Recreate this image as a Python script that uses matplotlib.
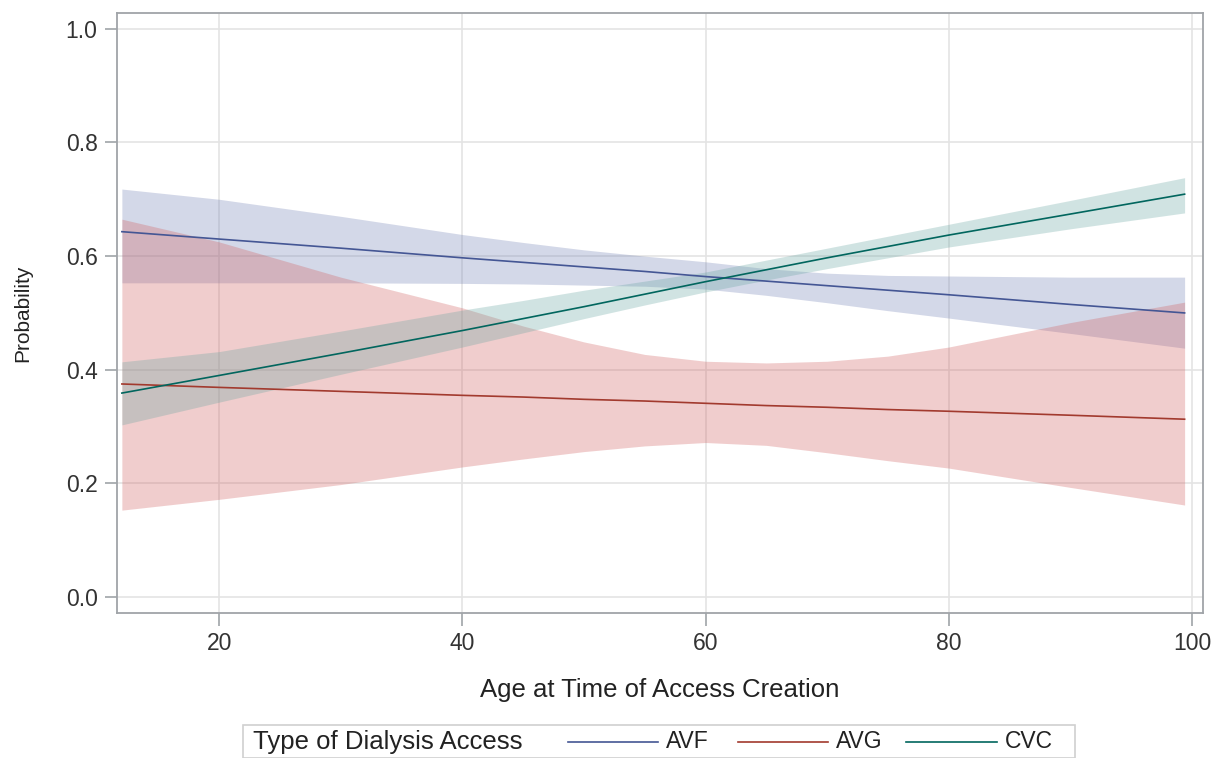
import matplotlib
matplotlib.use("Agg")
import matplotlib.pyplot as plt
from matplotlib.lines import Line2D
from matplotlib.patches import Rectangle

plt.rcParams["font.family"] = ["Liberation Sans", "DejaVu Sans"]

age = [12, 20, 30, 40, 45, 50, 55, 60, 65, 70, 75, 80, 90, 99.4]

avf_mean = [0.643, 0.630, 0.614, 0.597, 0.589, 0.581, 0.573, 0.564, 0.556, 0.548, 0.540, 0.532, 0.515, 0.500]
avf_upper = [0.718, 0.700, 0.670, 0.638, 0.624, 0.611, 0.600, 0.590, 0.578, 0.570, 0.566, 0.565, 0.563, 0.563]
avf_lower = [0.553, 0.553, 0.553, 0.552, 0.551, 0.549, 0.547, 0.542, 0.531, 0.518, 0.504, 0.491, 0.464, 0.438]

avg_mean = [0.375, 0.369, 0.362, 0.355, 0.352, 0.348, 0.345, 0.341, 0.337, 0.334, 0.330, 0.327, 0.320, 0.313]
avg_upper = [0.665, 0.625, 0.563, 0.509, 0.477, 0.449, 0.427, 0.415, 0.412, 0.415, 0.424, 0.440, 0.483, 0.519]
avg_lower = [0.153, 0.172, 0.198, 0.229, 0.243, 0.256, 0.266, 0.272, 0.267, 0.254, 0.240, 0.227, 0.193, 0.162]

cvc_mean = [0.359, 0.390, 0.429, 0.469, 0.490, 0.511, 0.533, 0.555, 0.576, 0.597, 0.617, 0.637, 0.674, 0.709]
cvc_upper = [0.414, 0.432, 0.468, 0.505, 0.522, 0.540, 0.556, 0.572, 0.593, 0.614, 0.635, 0.656, 0.698, 0.738]
cvc_lower = [0.303, 0.343, 0.392, 0.440, 0.465, 0.490, 0.514, 0.537, 0.558, 0.578, 0.597, 0.616, 0.648, 0.676]

labels = ["AVF", "AVG", "CVC"]
line_colors = ["#445694", "#A23A2E", "#01665E"]
fill_colors = ["#6F7EB3", "#D05B5B", "#66A5A0"]
series = [(avf_mean, avf_lower, avf_upper),
          (avg_mean, avg_lower, avg_upper),
          (cvc_mean, cvc_lower, cvc_upper)]

fig = plt.figure(figsize=(12.15, 7.58), dpi=100)
ax = fig.add_axes([0.0963, 0.1913, 0.8937, 0.7917])

for (mean, lo, hi), fc in zip(series, fill_colors):
    ax.fill_between(age, lo, hi, color=fc, alpha=0.3, linewidth=0, zorder=2)
for (mean, lo, hi), lc in zip(series, line_colors):
    ax.plot(age, mean, color=lc, linewidth=1.2, zorder=3)

ax.set_xlim(11.6, 100.9)
ax.set_ylim(-0.028, 1.028)
ax.set_xticks([20, 40, 60, 80, 100])
ax.set_yticks([0.0, 0.2, 0.4, 0.6, 0.8, 1.0])
ax.set_yticklabels(["0.0", "0.2", "0.4", "0.6", "0.8", "1.0"])
ax.grid(True, color="#E4E4E4", linewidth=1.2, zorder=0)
ax.set_axisbelow(True)
for s in ax.spines.values():
    s.set_color("#A0A4A8")
    s.set_linewidth(1.3)
ax.tick_params(axis="both", direction="out", length=9, width=1.2, color="#A0A4A8",
               labelsize=16.5, labelcolor="#333333", pad=5)
ax.set_xlabel("Age at Time of Access Creation", fontsize=18.5, color="#222222", labelpad=16)
ax.set_ylabel("Probability", fontsize=15, color="#222222", labelpad=24)

# legend box drawn by hand: title sits inline with the entries
fig.patches.append(Rectangle((243 / 1215, 0), (1075 - 243) / 1215, (758 - 725) / 758,
                             transform=fig.transFigure, facecolor="white",
                             edgecolor="#D0D0D0", linewidth=1.2))
ty = 1 - 742 / 758
fig.text(253 / 1215, ty, "Type of Dialysis Access", fontsize=18.5, color="#222222", va="center")
line_x = [(568, 658), (738, 828), (906, 997)]
for (x0, x1), lc, lab in zip(line_x, line_colors, labels):
    fig.add_artist(Line2D([x0 / 1215, x1 / 1215], [ty, ty], transform=fig.transFigure,
                          color=lc, linewidth=1.2))
    fig.text((x1 + 8) / 1215, ty, lab, fontsize=16.5, color="#222222", va="center")

fig.savefig("out.png", dpi=100)
